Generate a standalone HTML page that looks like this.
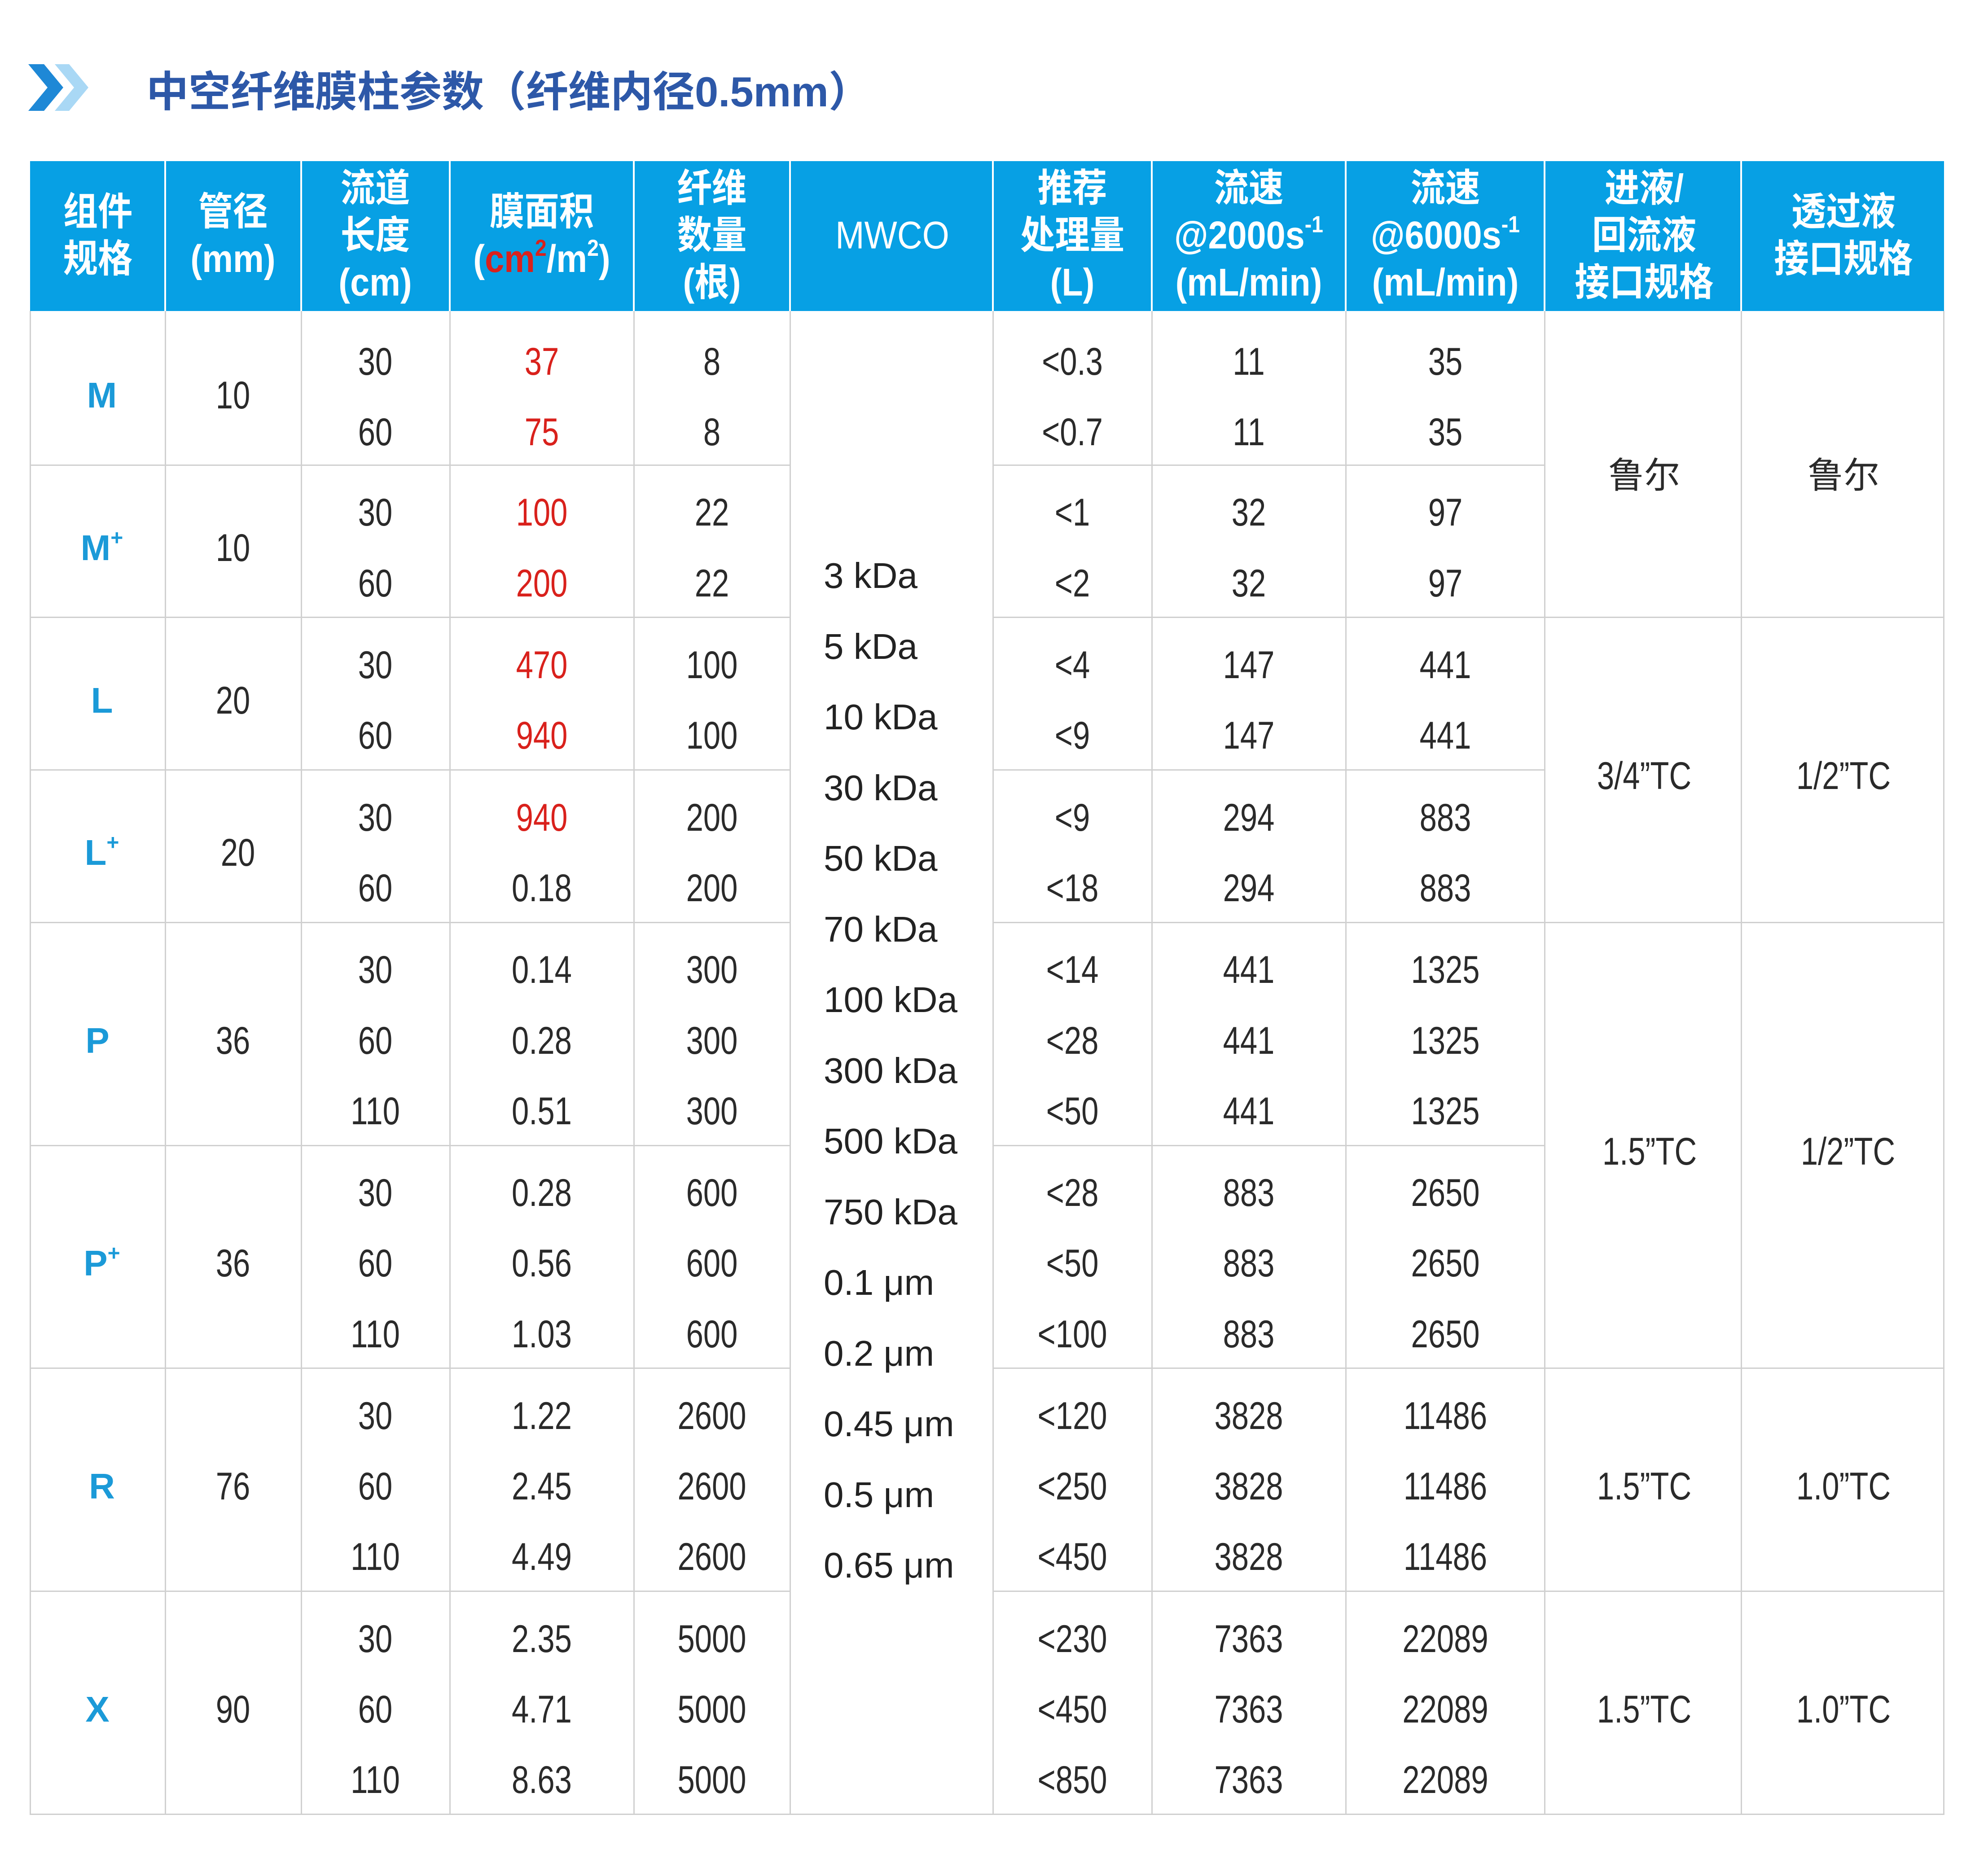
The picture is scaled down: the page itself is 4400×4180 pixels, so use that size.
<!DOCTYPE html>
<html><head><meta charset="utf-8"><style>
*{margin:0;padding:0}
body{width:4400px;height:4180px;background:#fff;position:relative;overflow:hidden;font-family:"Liberation Sans","Noto Sans CJK SC",sans-serif}
.t{position:absolute;transform:translate(-50%,-50%) scaleX(0.8);white-space:nowrap;font-size:86px;color:#2a2a2a;line-height:1}
.r{color:#d9211c}
.b{color:#1b9ad8;font-family:"Liberation Sans","Noto Sans CJK SC",sans-serif;font-weight:bold;font-size:80px;transform:translate(-50%,-50%)}
.h{position:absolute;transform:translate(-50%,-50%) scaleX(0.9);white-space:nowrap;font-size:86px;color:#fff;font-weight:bold;line-height:105px;text-align:center;font-family:"Liberation Sans","Noto Sans CJK SC",sans-serif}
.m{position:absolute;left:1835px;font-size:80px;color:#222;transform:translateY(-50%);font-family:"Liberation Sans","Noto Sans CJK SC",sans-serif;white-space:nowrap}
.c{font-family:"Noto Sans CJK SC",sans-serif;font-size:80px;transform:translate(-50%,-50%)}
.v{position:absolute;top:693px;height:3349px;width:3px;background:#d0d0d0}
.hz{position:absolute;height:3px;background:#d0d0d0}
.hv{position:absolute;top:359px;height:334px;width:4px;background:#fff}
sup{font-size:0.6em;vertical-align:0.7em;line-height:0}
</style></head><body>
<svg style="position:absolute;left:60px;top:140px" width="160" height="110" viewBox="0 0 160 110">
<polygon points="62,3 105,55 62,107 94,107 137,55 94,3" fill="#a9d8f5"/>
<polygon points="3,3 46,55 3,107 38,107 81,55 38,3" fill="#1e88d6"/>
</svg>
<div style="position:absolute;left:326px;top:197px;transform:translateY(-50%);font-size:94px;font-weight:bold;color:#2d58a8;font-family:'Liberation Sans','Noto Sans CJK SC',sans-serif;white-space:nowrap">中空纤维膜柱参数（纤维内径0.5mm）</div>

<div style="position:absolute;left:67px;top:359px;width:4264px;height:334px;background:#07a0e4"></div>
<div class="hv" style="left:366px"></div><div class="hv" style="left:669px"></div><div class="hv" style="left:1000px"></div><div class="hv" style="left:1410px"></div><div class="hv" style="left:1758px"></div><div class="hv" style="left:2210px"></div><div class="hv" style="left:2564px"></div><div class="hv" style="left:2996px"></div><div class="hv" style="left:3439px"></div><div class="hv" style="left:3877px"></div>

<div class="h" style="left:218px;top:525px">组件<br>规格</div>
<div class="h" style="left:519px;top:525px">管径<br>(mm)</div>
<div class="h" style="left:836px;top:525px">流道<br>长度<br>(cm)</div>
<div class="h" style="left:1207px;top:525px">膜面积<br>(<span style="color:#d9211c">cm<sup>2</sup></span>/m<sup>2</sup>)</div>
<div class="h" style="left:1586px;top:525px">纤维<br>数量<br>(根)</div>
<div class="h" style="left:1988px;top:525px;font-weight:normal">MWCO</div>
<div class="h" style="left:2389px;top:525px">推荐<br>处理量<br>(L)</div>
<div class="h" style="left:2782px;top:525px">流速<br>@2000s<sup>-1</sup><br>(mL/min)</div>
<div class="h" style="left:3220px;top:525px">流速<br>@6000s<sup>-1</sup><br>(mL/min)</div>
<div class="h" style="left:3663px;top:525px">进液/<br>回流液<br>接口规格</div>
<div class="h" style="left:4107px;top:525px">透过液<br>接口规格</div>

<div class="v" style="left:66px"></div><div class="v" style="left:367px"></div><div class="v" style="left:670px"></div><div class="v" style="left:1001px"></div><div class="v" style="left:1411px"></div><div class="v" style="left:1759px"></div><div class="v" style="left:2211px"></div><div class="v" style="left:2565px"></div><div class="v" style="left:2997px"></div><div class="v" style="left:3440px"></div><div class="v" style="left:3878px"></div><div class="v" style="left:4329px"></div>
<div class="hz" style="left:66px;width:1694px;top:1035px"></div><div class="hz" style="left:2211px;width:1230px;top:1035px"></div>
<div class="hz" style="left:66px;width:1694px;top:1374px"></div><div class="hz" style="left:2211px;width:2121px;top:1374px"></div>
<div class="hz" style="left:66px;width:1694px;top:1714px"></div><div class="hz" style="left:2211px;width:1230px;top:1714px"></div>
<div class="hz" style="left:66px;width:1694px;top:2054px"></div><div class="hz" style="left:2211px;width:2121px;top:2054px"></div>
<div class="hz" style="left:66px;width:1694px;top:2551px"></div><div class="hz" style="left:2211px;width:1230px;top:2551px"></div>
<div class="hz" style="left:66px;width:1694px;top:3047px"></div><div class="hz" style="left:2211px;width:2121px;top:3047px"></div>
<div class="hz" style="left:66px;width:1694px;top:3544px"></div><div class="hz" style="left:2211px;width:2121px;top:3544px"></div>
<div class="hz" style="left:66px;width:4266px;top:4041px"></div>

<div class="t b" style="left:227px;top:881px">M</div><div class="t" style="left:519px;top:881px">10</div>
<div class="t b" style="left:227px;top:1221px">M<sup>+</sup></div><div class="t" style="left:519px;top:1221px">10</div>
<div class="t b" style="left:227px;top:1561px">L</div><div class="t" style="left:519px;top:1561px">20</div>
<div class="t b" style="left:227px;top:1900px">L<sup>+</sup></div><div class="t" style="left:530px;top:1900px">20</div>
<div class="t b" style="left:217px;top:2319px">P</div><div class="t" style="left:519px;top:2319px">36</div>
<div class="t b" style="left:227px;top:2815px">P<sup>+</sup></div><div class="t" style="left:519px;top:2815px">36</div>
<div class="t b" style="left:227px;top:3312px">R</div><div class="t" style="left:519px;top:3312px">76</div>
<div class="t b" style="left:217px;top:3809px">X</div><div class="t" style="left:519px;top:3809px">90</div>

<div class="t" style="left:836px;top:806px">30</div><div class="t r" style="left:1207px;top:806px">37</div><div class="t" style="left:1586px;top:806px">8</div><div class="t" style="left:2389px;top:806px">&lt;0.3</div><div class="t" style="left:2782px;top:806px">11</div><div class="t" style="left:3220px;top:806px">35</div>
<div class="t" style="left:836px;top:963px">60</div><div class="t r" style="left:1207px;top:963px">75</div><div class="t" style="left:1586px;top:963px">8</div><div class="t" style="left:2389px;top:963px">&lt;0.7</div><div class="t" style="left:2782px;top:963px">11</div><div class="t" style="left:3220px;top:963px">35</div>
<div class="t" style="left:836px;top:1142px">30</div><div class="t r" style="left:1207px;top:1142px">100</div><div class="t" style="left:1586px;top:1142px">22</div><div class="t" style="left:2389px;top:1142px">&lt;1</div><div class="t" style="left:2782px;top:1142px">32</div><div class="t" style="left:3220px;top:1142px">97</div>
<div class="t" style="left:836px;top:1300px">60</div><div class="t r" style="left:1207px;top:1300px">200</div><div class="t" style="left:1586px;top:1300px">22</div><div class="t" style="left:2389px;top:1300px">&lt;2</div><div class="t" style="left:2782px;top:1300px">32</div><div class="t" style="left:3220px;top:1300px">97</div>
<div class="t" style="left:836px;top:1482px">30</div><div class="t r" style="left:1207px;top:1482px">470</div><div class="t" style="left:1586px;top:1482px">100</div><div class="t" style="left:2389px;top:1482px">&lt;4</div><div class="t" style="left:2782px;top:1482px">147</div><div class="t" style="left:3220px;top:1482px">441</div>
<div class="t" style="left:836px;top:1639px">60</div><div class="t r" style="left:1207px;top:1639px">940</div><div class="t" style="left:1586px;top:1639px">100</div><div class="t" style="left:2389px;top:1639px">&lt;9</div><div class="t" style="left:2782px;top:1639px">147</div><div class="t" style="left:3220px;top:1639px">441</div>
<div class="t" style="left:836px;top:1822px">30</div><div class="t r" style="left:1207px;top:1822px">940</div><div class="t" style="left:1586px;top:1822px">200</div><div class="t" style="left:2389px;top:1822px">&lt;9</div><div class="t" style="left:2782px;top:1822px">294</div><div class="t" style="left:3220px;top:1822px">883</div>
<div class="t" style="left:836px;top:1979px">60</div><div class="t" style="left:1207px;top:1979px">0.18</div><div class="t" style="left:1586px;top:1979px">200</div><div class="t" style="left:2389px;top:1979px">&lt;18</div><div class="t" style="left:2782px;top:1979px">294</div><div class="t" style="left:3220px;top:1979px">883</div>
<div class="t" style="left:836px;top:2161px">30</div><div class="t" style="left:1207px;top:2161px">0.14</div><div class="t" style="left:1586px;top:2161px">300</div><div class="t" style="left:2389px;top:2161px">&lt;14</div><div class="t" style="left:2782px;top:2161px">441</div><div class="t" style="left:3220px;top:2161px">1325</div>
<div class="t" style="left:836px;top:2319px">60</div><div class="t" style="left:1207px;top:2319px">0.28</div><div class="t" style="left:1586px;top:2319px">300</div><div class="t" style="left:2389px;top:2319px">&lt;28</div><div class="t" style="left:2782px;top:2319px">441</div><div class="t" style="left:3220px;top:2319px">1325</div>
<div class="t" style="left:836px;top:2476px">110</div><div class="t" style="left:1207px;top:2476px">0.51</div><div class="t" style="left:1586px;top:2476px">300</div><div class="t" style="left:2389px;top:2476px">&lt;50</div><div class="t" style="left:2782px;top:2476px">441</div><div class="t" style="left:3220px;top:2476px">1325</div>
<div class="t" style="left:836px;top:2658px">30</div><div class="t" style="left:1207px;top:2658px">0.28</div><div class="t" style="left:1586px;top:2658px">600</div><div class="t" style="left:2389px;top:2658px">&lt;28</div><div class="t" style="left:2782px;top:2658px">883</div><div class="t" style="left:3220px;top:2658px">2650</div>
<div class="t" style="left:836px;top:2815px">60</div><div class="t" style="left:1207px;top:2815px">0.56</div><div class="t" style="left:1586px;top:2815px">600</div><div class="t" style="left:2389px;top:2815px">&lt;50</div><div class="t" style="left:2782px;top:2815px">883</div><div class="t" style="left:3220px;top:2815px">2650</div>
<div class="t" style="left:836px;top:2973px">110</div><div class="t" style="left:1207px;top:2973px">1.03</div><div class="t" style="left:1586px;top:2973px">600</div><div class="t" style="left:2389px;top:2973px">&lt;100</div><div class="t" style="left:2782px;top:2973px">883</div><div class="t" style="left:3220px;top:2973px">2650</div>
<div class="t" style="left:836px;top:3155px">30</div><div class="t" style="left:1207px;top:3155px">1.22</div><div class="t" style="left:1586px;top:3155px">2600</div><div class="t" style="left:2389px;top:3155px">&lt;120</div><div class="t" style="left:2782px;top:3155px">3828</div><div class="t" style="left:3220px;top:3155px">11486</div>
<div class="t" style="left:836px;top:3312px">60</div><div class="t" style="left:1207px;top:3312px">2.45</div><div class="t" style="left:1586px;top:3312px">2600</div><div class="t" style="left:2389px;top:3312px">&lt;250</div><div class="t" style="left:2782px;top:3312px">3828</div><div class="t" style="left:3220px;top:3312px">11486</div>
<div class="t" style="left:836px;top:3469px">110</div><div class="t" style="left:1207px;top:3469px">4.49</div><div class="t" style="left:1586px;top:3469px">2600</div><div class="t" style="left:2389px;top:3469px">&lt;450</div><div class="t" style="left:2782px;top:3469px">3828</div><div class="t" style="left:3220px;top:3469px">11486</div>
<div class="t" style="left:836px;top:3652px">30</div><div class="t" style="left:1207px;top:3652px">2.35</div><div class="t" style="left:1586px;top:3652px">5000</div><div class="t" style="left:2389px;top:3652px">&lt;230</div><div class="t" style="left:2782px;top:3652px">7363</div><div class="t" style="left:3220px;top:3652px">22089</div>
<div class="t" style="left:836px;top:3809px">60</div><div class="t" style="left:1207px;top:3809px">4.71</div><div class="t" style="left:1586px;top:3809px">5000</div><div class="t" style="left:2389px;top:3809px">&lt;450</div><div class="t" style="left:2782px;top:3809px">7363</div><div class="t" style="left:3220px;top:3809px">22089</div>
<div class="t" style="left:836px;top:3966px">110</div><div class="t" style="left:1207px;top:3966px">8.63</div><div class="t" style="left:1586px;top:3966px">5000</div><div class="t" style="left:2389px;top:3966px">&lt;850</div><div class="t" style="left:2782px;top:3966px">7363</div><div class="t" style="left:3220px;top:3966px">22089</div>

<div class="t c" style="left:3663px;top:1053px">鲁尔</div><div class="t c" style="left:4107px;top:1053px">鲁尔</div>
<div class="t" style="left:3663px;top:1729px">3/4”TC</div><div class="t" style="left:4107px;top:1729px">1/2”TC</div>
<div class="t" style="left:3675px;top:2566px">1.5”TC</div><div class="t" style="left:4117px;top:2566px">1/2”TC</div>
<div class="t" style="left:3663px;top:3312px">1.5”TC</div><div class="t" style="left:4107px;top:3312px">1.0”TC</div>
<div class="t" style="left:3663px;top:3809px">1.5”TC</div><div class="t" style="left:4107px;top:3809px">1.0”TC</div>

<div class="m" style="top:1283px">3 kDa</div>
<div class="m" style="top:1441px">5 kDa</div>
<div class="m" style="top:1598px">10 kDa</div>
<div class="m" style="top:1756px">30 kDa</div>
<div class="m" style="top:1913px">50 kDa</div>
<div class="m" style="top:2071px">70 kDa</div>
<div class="m" style="top:2228px">100 kDa</div>
<div class="m" style="top:2386px">300 kDa</div>
<div class="m" style="top:2543px">500 kDa</div>
<div class="m" style="top:2701px">750 kDa</div>
<div class="m" style="top:2858px">0.1 μm</div>
<div class="m" style="top:3016px">0.2 μm</div>
<div class="m" style="top:3173px">0.45 μm</div>
<div class="m" style="top:3331px">0.5 μm</div>
<div class="m" style="top:3488px">0.65 μm</div>
</body></html>
